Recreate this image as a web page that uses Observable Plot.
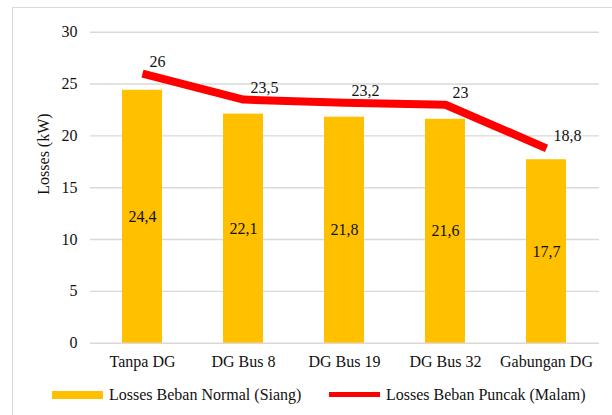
<!DOCTYPE html>
<html>
<head>
<meta charset="utf-8">
<script src="https://cdn.jsdelivr.net/npm/d3@7"></script>
<script src="https://cdn.jsdelivr.net/npm/@observablehq/plot@0.6"></script>
<style>
  html, body { margin: 0; padding: 0; background: #fff; }
  #wrap { position: relative; width: 612px; height: 415px; overflow: hidden; font-family: 'Liberation Serif', 'Tinos', 'DejaVu Serif', serif; color: #111; }
  #frame { position: absolute; left: 12px; top: 7px; width: 700px; height: 500px; border-left: 1px solid #d9d9d9; border-top: 1px solid #d9d9d9; }
  #chart { position: absolute; left: 0; top: 0; }
  #chart svg, #chart svg text { font-family: 'Liberation Serif', 'Tinos', 'DejaVu Serif', serif !important; }
  .sw { position: absolute; }
  .lt { position: absolute; font-size: 16px; line-height: 16px; white-space: nowrap; }
</style>
</head>
<body>
<div id="wrap">
  <div id="frame"></div>
  <div id="chart"></div>
  <div class="sw" style="left:52px;top:391px;width:51px;height:8px;background:#FFC000"></div>
  <div class="lt" style="left:109px;top:387px">Losses Beban Normal (Siang)</div>
  <div class="sw" style="left:329px;top:392px;width:51px;height:5px;background:#FF0000"></div>
  <div class="lt" style="left:386px;top:387px">Losses Beban Puncak (Malam)</div>
</div>
<script>
const categories = ["Tanpa DG", "DG Bus 8", "DG Bus 19", "DG Bus 32", "Gabungan DG"];
const normalValues = [24.4, 22.1, 21.8, 21.6, 17.7];
const peakValues = [26, 23.5, 23.2, 23, 18.8];
const yTicks = [0, 5, 10, 15, 20, 25, 30];
const yLabel = "Losses (kW)";

const normal = categories.map((c, i) => ({cat: c, v: normalValues[i]}));
const peak = categories.map((c, i) => ({cat: c, v: peakValues[i]}));
const fmt = v => String(v).replace(".", ",");
const FONT = "'Liberation Serif', 'Tinos', 'DejaVu Serif', serif";

const chart = Plot.plot({
  width: 612,
  height: 376,
  marginLeft: 90,
  marginRight: 13,
  marginTop: 31.7,
  marginBottom: 33.3,
  style: {fontFamily: FONT, fontSize: "16px", color: "#111", background: "transparent"},
  x: {domain: categories, paddingInner: 0.6, paddingOuter: 0.3, label: null, tickSize: 0, tickPadding: 12},
  y: {domain: [0, 30], ticks: yTicks, label: null, tickSize: 0, tickPadding: 13},
  marks: [
    Plot.ruleY(yTicks, {stroke: "#d9d9d9", strokeWidth: 1.4}),
    Plot.barY(normal, {x: "cat", y: "v", fill: "#FFC000"}),
    Plot.text(normal, {x: "cat", y: d => d.v / 2, text: d => fmt(d.v), fill: "#111", fontSize: 16}),
    Plot.line(peak, {x: "cat", y: "v", stroke: "#FF0000", strokeWidth: 8, strokeLinejoin: "round", strokeLinecap: "butt"}),
    Plot.text(peak, {x: "cat", y: "v", text: d => fmt(d.v), textAnchor: "start", dx: 7, dy: -12, fill: "#111", fontSize: 16}),
    Plot.text([yLabel], {frameAnchor: "left", rotate: -90, dx: -47, dy: 7, text: d => d, fill: "#111", fontSize: 16})
  ]
});
document.getElementById("chart").appendChild(chart);
</script>
</body>
</html>
